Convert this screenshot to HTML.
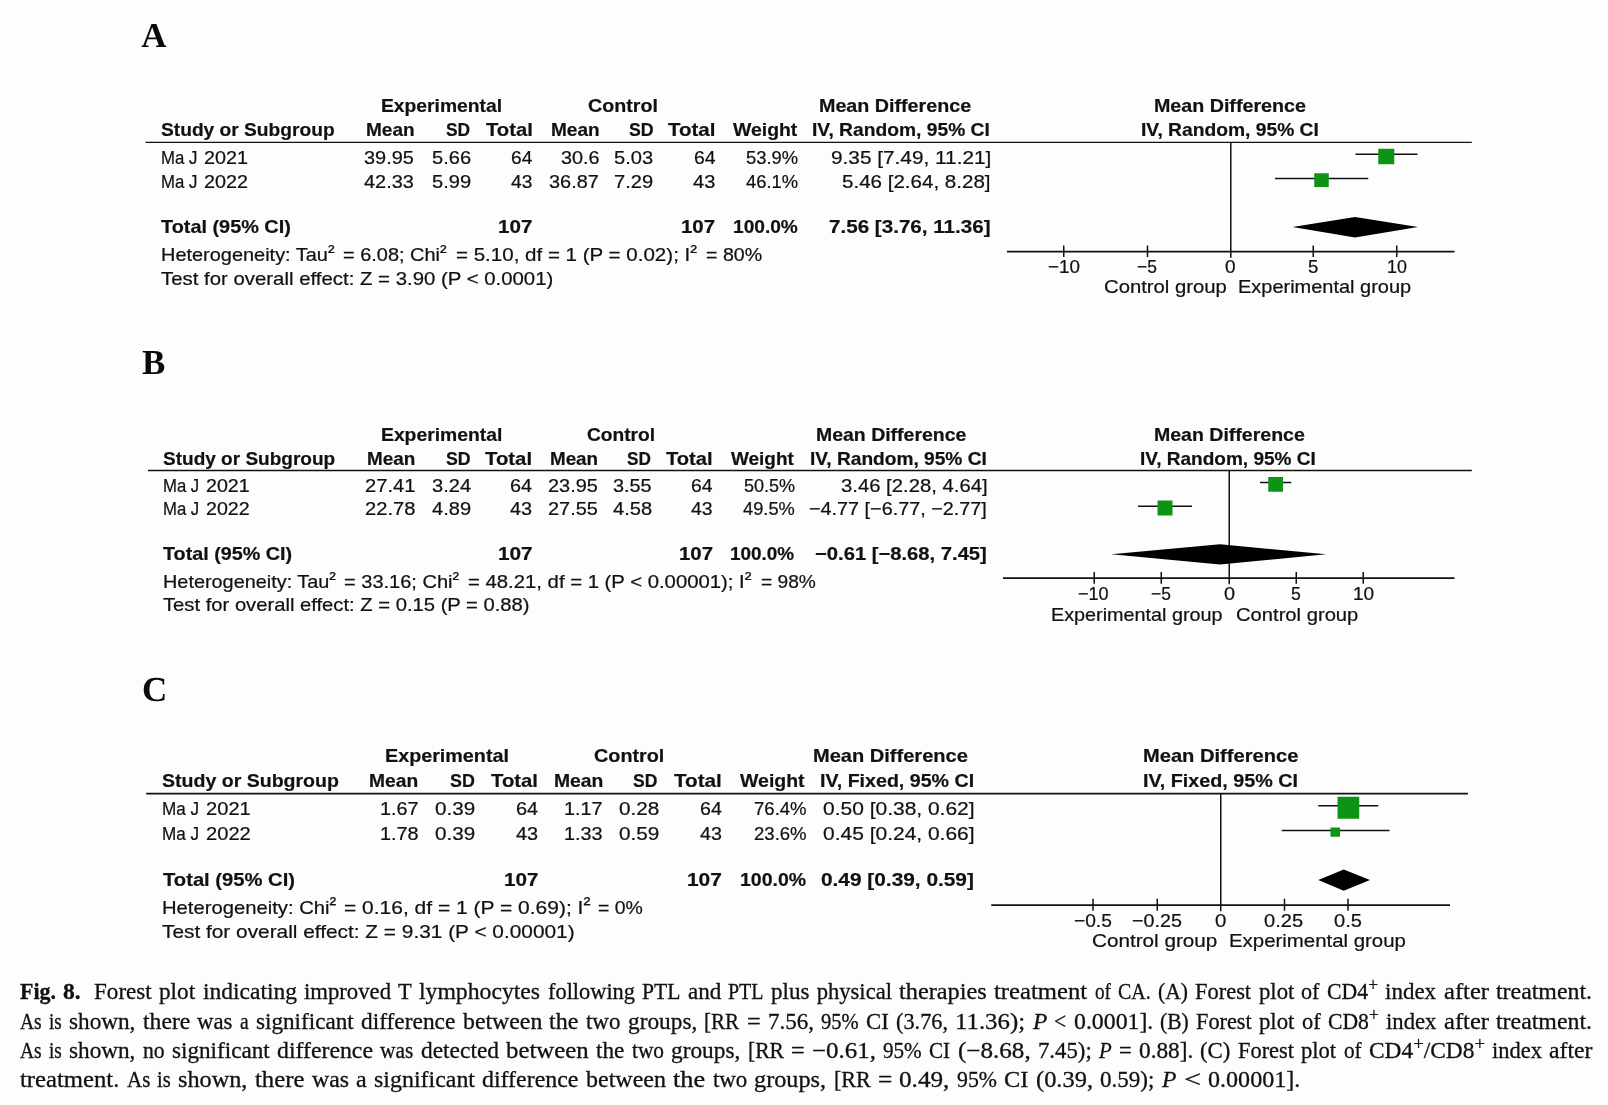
<!DOCTYPE html>
<html lang="en"><head><meta charset="utf-8"><title>Fig. 8 Forest plots</title>
<style>
html,body{margin:0;padding:0;}
body{width:1608px;height:1105px;background:#fdfdfd;position:relative;overflow:hidden;
  font-family:"Liberation Sans",sans-serif;color:#111;}
.t{position:absolute;white-space:pre;transform-origin:0 0;line-height:20px;height:20px;
  font-family:"Liberation Sans",sans-serif;}
.t{-webkit-text-stroke:0.22px #111;}
.q{position:relative;top:-0.19em;}
.b{font-weight:bold;-webkit-text-stroke:0.2px #111;}
.L{position:absolute;font-family:"Liberation Serif",serif;font-weight:bold;line-height:40px;
  font-size:35px;white-space:pre;color:#0a0a0a;text-rendering:geometricPrecision;}
.c{position:absolute;white-space:pre;font-family:"Liberation Serif",serif;
  font-size:22.6px;line-height:26px;height:26px;color:#111;transform-origin:0 0;-webkit-text-stroke:0.3px #111;}
.c sup{font-size:0.8em;line-height:0;vertical-align:baseline;position:relative;top:-0.44em;}
svg{position:absolute;left:0;top:0;}
</style></head><body>
<svg width="1608" height="1105" viewBox="0 0 1608 1105">
<line x1="145.5" y1="142.35" x2="1471.8" y2="142.35" stroke="#111" stroke-width="1.4"/>
<line x1="1230.8" y1="142.4" x2="1230.8" y2="257.7" stroke="#111" stroke-width="1.5"/>
<line x1="1007" y1="251.5" x2="1454.5" y2="251.5" stroke="#111" stroke-width="1.75"/>
<line x1="1063.75" y1="245.5" x2="1063.75" y2="257" stroke="#111" stroke-width="1.5"/>
<line x1="1147.5" y1="245.5" x2="1147.5" y2="257" stroke="#111" stroke-width="1.5"/>
<line x1="1313.25" y1="245.5" x2="1313.25" y2="257" stroke="#111" stroke-width="1.5"/>
<line x1="1396.75" y1="245.5" x2="1396.75" y2="257" stroke="#111" stroke-width="1.5"/>
<line x1="1355.5" y1="154.25" x2="1417.5" y2="154.25" stroke="#111" stroke-width="1.5"/>
<rect x="1378.25" y="148.75" width="16.00" height="15.50" fill="#0e9414"/>
<line x1="1275" y1="178.6" x2="1368.25" y2="178.6" stroke="#111" stroke-width="1.5"/>
<rect x="1314.25" y="173.25" width="14.50" height="13.75" fill="#0e9414"/>
<polygon points="1292.5,227 1355,217 1418,227 1355,237.5" fill="#000"/>
<line x1="147.9" y1="470.5" x2="1471.8" y2="470.5" stroke="#111" stroke-width="1.4"/>
<line x1="1229.25" y1="470.5" x2="1229.25" y2="584.2" stroke="#111" stroke-width="1.5"/>
<line x1="1003" y1="578" x2="1454.5" y2="578" stroke="#111" stroke-width="1.75"/>
<line x1="1094.25" y1="572" x2="1094.25" y2="583.75" stroke="#111" stroke-width="1.5"/>
<line x1="1161.25" y1="572" x2="1161.25" y2="583.75" stroke="#111" stroke-width="1.5"/>
<line x1="1296.25" y1="572" x2="1296.25" y2="583.75" stroke="#111" stroke-width="1.5"/>
<line x1="1363.25" y1="572" x2="1363.25" y2="583.75" stroke="#111" stroke-width="1.5"/>
<line x1="1260" y1="482.5" x2="1291.25" y2="482.5" stroke="#111" stroke-width="1.5"/>
<rect x="1268.25" y="477" width="14.75" height="14.75" fill="#0e9414"/>
<line x1="1138" y1="506.25" x2="1192" y2="506.25" stroke="#111" stroke-width="1.5"/>
<rect x="1157.5" y="500.5" width="15.00" height="15.00" fill="#0e9414"/>
<polygon points="1111.25,554.25 1220,544.25 1326.25,554.25 1220,564.5" fill="#000"/>
<line x1="146.2" y1="793.65" x2="1467.9" y2="793.65" stroke="#111" stroke-width="1.8"/>
<line x1="1220.75" y1="793.65" x2="1220.75" y2="911.2" stroke="#111" stroke-width="1.5"/>
<line x1="991.25" y1="905" x2="1450" y2="905" stroke="#111" stroke-width="1.75"/>
<line x1="1093" y1="898.75" x2="1093" y2="910.75" stroke="#111" stroke-width="1.5"/>
<line x1="1157.25" y1="898.75" x2="1157.25" y2="910.75" stroke="#111" stroke-width="1.5"/>
<line x1="1284.5" y1="898.75" x2="1284.5" y2="910.75" stroke="#111" stroke-width="1.5"/>
<line x1="1348" y1="898.75" x2="1348" y2="910.75" stroke="#111" stroke-width="1.5"/>
<line x1="1318.25" y1="805.75" x2="1378.25" y2="805.75" stroke="#111" stroke-width="1.5"/>
<rect x="1337.5" y="796.75" width="21.75" height="22.00" fill="#0e9414"/>
<line x1="1281.75" y1="830.5" x2="1389.5" y2="830.5" stroke="#111" stroke-width="1.5"/>
<rect x="1330.5" y="827.5" width="9.50" height="9.25" fill="#0e9414"/>
<polygon points="1318.25,880 1343.75,869.5 1370,880 1343.75,890.75" fill="#000"/>
</svg>
<div id="txt" style="position:absolute;left:0;top:0;width:1608px;height:1105px;will-change:transform">
<div class="L" style="left:141.3px;top:16.00px">A</div>
<div class="L" style="left:141.9px;top:343.00px">B</div>
<div class="L" style="left:141.9px;top:670.00px">C</div>
<span class="t b" style="left:380.70px;top:96.00px;font-size:18.2px;transform:scaleX(1.0600)">Experimental</span>
<span class="t b" style="left:588.20px;top:96.00px;font-size:18.2px;transform:scaleX(1.0802)">Control</span>
<span class="t b" style="left:818.95px;top:96.00px;font-size:18.2px;transform:scaleX(1.0825)">Mean Difference</span>
<span class="t b" style="left:1154.45px;top:96.00px;font-size:18.2px;transform:scaleX(1.0807)">Mean Difference</span>
<span class="t b" style="left:160.70px;top:120.00px;font-size:18.2px;transform:scaleX(1.0541)">Study or Subgroup</span>
<span class="t b" style="left:366.45px;top:120.00px;font-size:18.2px;transform:scaleX(1.0450)">Mean</span>
<span class="t b" style="left:446.45px;top:120.00px;font-size:18.2px;transform:scaleX(0.9535)">SD</span>
<span class="t b" style="left:485.70px;top:120.00px;font-size:18.2px;transform:scaleX(1.1128)">Total</span>
<span class="t b" style="left:550.70px;top:120.00px;font-size:18.2px;transform:scaleX(1.0450)">Mean</span>
<span class="t b" style="left:628.95px;top:120.00px;font-size:18.2px;transform:scaleX(0.9733)">SD</span>
<span class="t b" style="left:668.20px;top:120.00px;font-size:18.2px;transform:scaleX(1.1247)">Total</span>
<span class="t b" style="left:733.20px;top:120.00px;font-size:18.2px;transform:scaleX(1.0671)">Weight</span>
<span class="t b" style="left:811.95px;top:120.00px;font-size:18.2px;transform:scaleX(1.0578)">IV, Random, 95% CI</span>
<span class="t b" style="left:1140.70px;top:120.00px;font-size:18.2px;transform:scaleX(1.0578)">IV, Random, 95% CI</span>
<span class="t" style="left:160.70px;top:148.00px;font-size:18.2px;transform:scaleX(0.9225)">Ma J</span>
<span class="t" style="left:204.09px;top:148.00px;font-size:18.2px;transform:scaleX(1.0862)">2021</span>
<span class="t" style="left:364.45px;top:148.00px;font-size:18.2px;transform:scaleX(1.0951)">39.95</span>
<span class="t" style="left:431.95px;top:148.00px;font-size:18.2px;transform:scaleX(1.1041)">5.66</span>
<span class="t" style="left:511.20px;top:148.00px;font-size:18.2px;transform:scaleX(1.0547)">64</span>
<span class="t" style="left:560.70px;top:148.00px;font-size:18.2px;transform:scaleX(1.0900)">30.6</span>
<span class="t" style="left:614.45px;top:148.00px;font-size:18.2px;transform:scaleX(1.1041)">5.03</span>
<span class="t" style="left:693.95px;top:148.00px;font-size:18.2px;transform:scaleX(1.0671)">64</span>
<span class="t" style="left:746.45px;top:148.00px;font-size:18.2px;transform:scaleX(1.0100)">53.9%</span>
<span class="t" style="left:830.70px;top:148.00px;font-size:18.2px;transform:scaleX(1.1434)">9.35 [7.49, 11.21]</span>
<span class="t" style="left:160.70px;top:172.00px;font-size:18.2px;transform:scaleX(0.9225)">Ma J</span>
<span class="t" style="left:204.09px;top:172.00px;font-size:18.2px;transform:scaleX(1.0862)">2022</span>
<span class="t" style="left:364.45px;top:172.00px;font-size:18.2px;transform:scaleX(1.0951)">42.33</span>
<span class="t" style="left:431.95px;top:172.00px;font-size:18.2px;transform:scaleX(1.1041)">5.99</span>
<span class="t" style="left:511.20px;top:172.00px;font-size:18.2px;transform:scaleX(1.0547)">43</span>
<span class="t" style="left:549.45px;top:172.00px;font-size:18.2px;transform:scaleX(1.0951)">36.87</span>
<span class="t" style="left:614.45px;top:172.00px;font-size:18.2px;transform:scaleX(1.1041)">7.29</span>
<span class="t" style="left:693.20px;top:172.00px;font-size:18.2px;transform:scaleX(1.1042)">43</span>
<span class="t" style="left:746.45px;top:172.00px;font-size:18.2px;transform:scaleX(1.0100)">46.1%</span>
<span class="t" style="left:842.45px;top:172.00px;font-size:18.2px;transform:scaleX(1.1302)">5.46 [2.64, 8.28]</span>
<span class="t b" style="left:160.70px;top:217.00px;font-size:18.2px;transform:scaleX(1.0920)">Total (95% CI)</span>
<span class="t b" style="left:498.20px;top:217.00px;font-size:18.2px;transform:scaleX(1.1312)">107</span>
<span class="t b" style="left:681.45px;top:217.00px;font-size:18.2px;transform:scaleX(1.1229)">107</span>
<span class="t b" style="left:733.20px;top:217.00px;font-size:18.2px;transform:scaleX(1.0511)">100.0%</span>
<span class="t b" style="left:828.95px;top:217.00px;font-size:18.2px;transform:scaleX(1.1334)">7.56 [3.76, 11.36]</span>
<span class="t" style="left:160.70px;top:245.00px;font-size:18.2px;transform:scaleX(1.0959)">Heterogeneity: Tau<span class="q">²</span></span>
<span class="t" style="left:343.20px;top:245.00px;font-size:18.2px;transform:scaleX(1.0958)">= 6.08; Chi<span class="q">²</span></span>
<span class="t" style="left:455.70px;top:245.00px;font-size:18.2px;transform:scaleX(1.1292)">= 5.10, df = 1 (P = 0.02); I<span class="q">²</span></span>
<span class="t" style="left:705.70px;top:245.00px;font-size:18.2px;transform:scaleX(1.0771)">= 80%</span>
<span class="t" style="left:160.70px;top:269.00px;font-size:18.2px;transform:scaleX(1.1205)">Test for overall effect: Z = 3.90 (P &lt; 0.0001)</span>
<span class="t" style="left:1048.20px;top:257.00px;font-size:18.2px;transform:scaleX(1.0318)">−10</span>
<span class="t" style="left:1136.95px;top:257.00px;font-size:18.2px;transform:scaleX(0.9562)">−5</span>
<span class="t" style="left:1225.45px;top:257.00px;font-size:18.2px;transform:scaleX(1.0461)">0</span>
<span class="t" style="left:1308.20px;top:257.00px;font-size:18.2px;transform:scaleX(1.0214)">5</span>
<span class="t" style="left:1386.95px;top:257.00px;font-size:18.2px;transform:scaleX(0.9806)">10</span>
<span class="t" style="left:1103.95px;top:277.00px;font-size:18.2px;transform:scaleX(1.1147)">Control group</span>
<span class="t" style="left:1238.20px;top:277.00px;font-size:18.2px;transform:scaleX(1.0975)">Experimental group</span>
<span class="t b" style="left:380.86px;top:425.00px;font-size:18.1px;transform:scaleX(1.0673)">Experimental</span>
<span class="t b" style="left:587.46px;top:425.00px;font-size:18.1px;transform:scaleX(1.0584)">Control</span>
<span class="t b" style="left:815.71px;top:425.00px;font-size:18.1px;transform:scaleX(1.0755)">Mean Difference</span>
<span class="t b" style="left:1153.96px;top:425.00px;font-size:18.1px;transform:scaleX(1.0791)">Mean Difference</span>
<span class="t b" style="left:163.06px;top:449.00px;font-size:18.1px;transform:scaleX(1.0509)">Study or Subgroup</span>
<span class="t b" style="left:367.26px;top:449.00px;font-size:18.1px;transform:scaleX(1.0437)">Mean</span>
<span class="t b" style="left:445.96px;top:449.00px;font-size:18.1px;transform:scaleX(0.9779)">SD</span>
<span class="t b" style="left:485.26px;top:449.00px;font-size:18.1px;transform:scaleX(1.1240)">Total</span>
<span class="t b" style="left:549.96px;top:449.00px;font-size:18.1px;transform:scaleX(1.0393)">Mean</span>
<span class="t b" style="left:627.46px;top:449.00px;font-size:18.1px;transform:scaleX(0.9481)">SD</span>
<span class="t b" style="left:666.46px;top:449.00px;font-size:18.1px;transform:scaleX(1.1121)">Total</span>
<span class="t b" style="left:730.71px;top:449.00px;font-size:18.1px;transform:scaleX(1.0475)">Weight</span>
<span class="t b" style="left:809.96px;top:449.00px;font-size:18.1px;transform:scaleX(1.0572)">IV, Random, 95% CI</span>
<span class="t b" style="left:1140.21px;top:449.00px;font-size:18.1px;transform:scaleX(1.0512)">IV, Random, 95% CI</span>
<span class="t" style="left:163.06px;top:476.00px;font-size:18.1px;transform:scaleX(0.9225)">Ma J</span>
<span class="t" style="left:206.21px;top:476.00px;font-size:18.1px;transform:scaleX(1.0860)">2021</span>
<span class="t" style="left:365.16px;top:476.00px;font-size:18.1px;transform:scaleX(1.1127)">27.41</span>
<span class="t" style="left:432.06px;top:476.00px;font-size:18.1px;transform:scaleX(1.1098)">3.24</span>
<span class="t" style="left:510.26px;top:476.00px;font-size:18.1px;transform:scaleX(1.0966)">64</span>
<span class="t" style="left:548.21px;top:476.00px;font-size:18.1px;transform:scaleX(1.1006)">23.95</span>
<span class="t" style="left:613.21px;top:476.00px;font-size:18.1px;transform:scaleX(1.0956)">3.55</span>
<span class="t" style="left:691.46px;top:476.00px;font-size:18.1px;transform:scaleX(1.0718)">64</span>
<span class="t" style="left:743.96px;top:476.00px;font-size:18.1px;transform:scaleX(0.9956)">50.5%</span>
<span class="t" style="left:840.71px;top:476.00px;font-size:18.1px;transform:scaleX(1.1207)">3.46 [2.28, 4.64]</span>
<span class="t" style="left:163.06px;top:499.00px;font-size:18.1px;transform:scaleX(0.9225)">Ma J</span>
<span class="t" style="left:206.21px;top:499.00px;font-size:18.1px;transform:scaleX(1.0860)">2022</span>
<span class="t" style="left:365.16px;top:499.00px;font-size:18.1px;transform:scaleX(1.1127)">22.78</span>
<span class="t" style="left:432.06px;top:499.00px;font-size:18.1px;transform:scaleX(1.1098)">4.89</span>
<span class="t" style="left:510.26px;top:499.00px;font-size:18.1px;transform:scaleX(1.0966)">43</span>
<span class="t" style="left:548.21px;top:499.00px;font-size:18.1px;transform:scaleX(1.1006)">27.55</span>
<span class="t" style="left:613.21px;top:499.00px;font-size:18.1px;transform:scaleX(1.1098)">4.58</span>
<span class="t" style="left:691.46px;top:499.00px;font-size:18.1px;transform:scaleX(1.0718)">43</span>
<span class="t" style="left:743.21px;top:499.00px;font-size:18.1px;transform:scaleX(1.0102)">49.5%</span>
<span class="t" style="left:809.46px;top:499.00px;font-size:18.1px;transform:scaleX(1.0945)">−4.77 [−6.77, −2.77]</span>
<span class="t b" style="left:163.06px;top:544.00px;font-size:18.1px;transform:scaleX(1.0920)">Total (95% CI)</span>
<span class="t b" style="left:497.66px;top:544.00px;font-size:18.1px;transform:scaleX(1.1484)">107</span>
<span class="t b" style="left:678.96px;top:544.00px;font-size:18.1px;transform:scaleX(1.1286)">107</span>
<span class="t b" style="left:730.21px;top:544.00px;font-size:18.1px;transform:scaleX(1.0442)">100.0%</span>
<span class="t b" style="left:814.96px;top:544.00px;font-size:18.1px;transform:scaleX(1.1164)">−0.61 [−8.68, 7.45]</span>
<span class="t" style="left:163.06px;top:572.00px;font-size:18.1px;transform:scaleX(1.0977)">Heterogeneity: Tau<span class="q">²</span></span>
<span class="t" style="left:344.16px;top:572.00px;font-size:18.1px;transform:scaleX(1.1064)">= 33.16; Chi<span class="q">²</span></span>
<span class="t" style="left:468.26px;top:572.00px;font-size:18.1px;transform:scaleX(1.1222)">= 48.21, df = 1 (P &lt; 0.00001); I<span class="q">²</span></span>
<span class="t" style="left:760.71px;top:572.00px;font-size:18.1px;transform:scaleX(1.0584)">= 98%</span>
<span class="t" style="left:163.06px;top:595.00px;font-size:18.1px;transform:scaleX(1.1169)">Test for overall effect: Z = 0.15 (P = 0.88)</span>
<span class="t" style="left:1078.21px;top:584.00px;font-size:18.1px;transform:scaleX(0.9978)">−10</span>
<span class="t" style="left:1151.46px;top:584.00px;font-size:18.1px;transform:scaleX(0.9610)">−5</span>
<span class="t" style="left:1223.71px;top:584.00px;font-size:18.1px;transform:scaleX(1.1000)">0</span>
<span class="t" style="left:1291.46px;top:584.00px;font-size:18.1px;transform:scaleX(0.9760)">5</span>
<span class="t" style="left:1353.21px;top:584.00px;font-size:18.1px;transform:scaleX(1.0469)">10</span>
<span class="t" style="left:1050.71px;top:605.00px;font-size:18.1px;transform:scaleX(1.0936)">Experimental group</span>
<span class="t" style="left:1236.21px;top:605.00px;font-size:18.1px;transform:scaleX(1.1158)">Control group</span>
<span class="t b" style="left:384.74px;top:746.00px;font-size:18.6px;transform:scaleX(1.0611)">Experimental</span>
<span class="t b" style="left:593.94px;top:746.00px;font-size:18.6px;transform:scaleX(1.0644)">Control</span>
<span class="t b" style="left:813.19px;top:746.00px;font-size:18.6px;transform:scaleX(1.0781)">Mean Difference</span>
<span class="t b" style="left:1143.19px;top:746.00px;font-size:18.6px;transform:scaleX(1.0816)">Mean Difference</span>
<span class="t b" style="left:161.74px;top:771.00px;font-size:18.6px;transform:scaleX(1.0507)">Study or Subgroup</span>
<span class="t b" style="left:369.04px;top:771.00px;font-size:18.6px;transform:scaleX(1.0333)">Mean</span>
<span class="t b" style="left:450.34px;top:771.00px;font-size:18.6px;transform:scaleX(0.9602)">SD</span>
<span class="t b" style="left:491.04px;top:771.00px;font-size:18.6px;transform:scaleX(1.0922)">Total</span>
<span class="t b" style="left:553.69px;top:771.00px;font-size:18.6px;transform:scaleX(1.0386)">Mean</span>
<span class="t b" style="left:633.19px;top:771.00px;font-size:18.6px;transform:scaleX(0.9428)">SD</span>
<span class="t b" style="left:673.94px;top:771.00px;font-size:18.6px;transform:scaleX(1.1120)">Total</span>
<span class="t b" style="left:740.19px;top:771.00px;font-size:18.6px;transform:scaleX(1.0483)">Weight</span>
<span class="t b" style="left:820.19px;top:771.00px;font-size:18.6px;transform:scaleX(1.0551)">IV, Fixed, 95% CI</span>
<span class="t b" style="left:1143.19px;top:771.00px;font-size:18.6px;transform:scaleX(1.0603)">IV, Fixed, 95% CI</span>
<span class="t" style="left:161.74px;top:799.00px;font-size:18.6px;transform:scaleX(0.9199)">Ma J</span>
<span class="t" style="left:205.96px;top:799.00px;font-size:18.6px;transform:scaleX(1.0828)">2021</span>
<span class="t" style="left:379.54px;top:799.00px;font-size:18.6px;transform:scaleX(1.0666)">1.67</span>
<span class="t" style="left:435.44px;top:799.00px;font-size:18.6px;transform:scaleX(1.1108)">0.39</span>
<span class="t" style="left:515.94px;top:799.00px;font-size:18.6px;transform:scaleX(1.0691)">64</span>
<span class="t" style="left:564.44px;top:799.00px;font-size:18.6px;transform:scaleX(1.0666)">1.17</span>
<span class="t" style="left:618.94px;top:799.00px;font-size:18.6px;transform:scaleX(1.1150)">0.28</span>
<span class="t" style="left:699.94px;top:799.00px;font-size:18.6px;transform:scaleX(1.0570)">64</span>
<span class="t" style="left:753.69px;top:799.00px;font-size:18.6px;transform:scaleX(0.9978)">76.4%</span>
<span class="t" style="left:823.19px;top:799.00px;font-size:18.6px;transform:scaleX(1.1280)">0.50 [0.38, 0.62]</span>
<span class="t" style="left:161.74px;top:824.00px;font-size:18.6px;transform:scaleX(0.9199)">Ma J</span>
<span class="t" style="left:205.96px;top:824.00px;font-size:18.6px;transform:scaleX(1.0828)">2022</span>
<span class="t" style="left:379.54px;top:824.00px;font-size:18.6px;transform:scaleX(1.0666)">1.78</span>
<span class="t" style="left:435.44px;top:824.00px;font-size:18.6px;transform:scaleX(1.1108)">0.39</span>
<span class="t" style="left:515.94px;top:824.00px;font-size:18.6px;transform:scaleX(1.0691)">43</span>
<span class="t" style="left:564.44px;top:824.00px;font-size:18.6px;transform:scaleX(1.0666)">1.33</span>
<span class="t" style="left:618.94px;top:824.00px;font-size:18.6px;transform:scaleX(1.1150)">0.59</span>
<span class="t" style="left:699.94px;top:824.00px;font-size:18.6px;transform:scaleX(1.0570)">43</span>
<span class="t" style="left:753.69px;top:824.00px;font-size:18.6px;transform:scaleX(0.9978)">23.6%</span>
<span class="t" style="left:823.19px;top:824.00px;font-size:18.6px;transform:scaleX(1.1280)">0.45 [0.24, 0.66]</span>
<span class="t b" style="left:162.54px;top:870.00px;font-size:18.6px;transform:scaleX(1.0860)">Total (95% CI)</span>
<span class="t b" style="left:503.64px;top:870.00px;font-size:18.6px;transform:scaleX(1.1091)">107</span>
<span class="t b" style="left:686.94px;top:870.00px;font-size:18.6px;transform:scaleX(1.1236)">107</span>
<span class="t b" style="left:740.19px;top:870.00px;font-size:18.6px;transform:scaleX(1.0482)">100.0%</span>
<span class="t b" style="left:821.44px;top:870.00px;font-size:18.6px;transform:scaleX(1.1203)">0.49 [0.39, 0.59]</span>
<span class="t" style="left:161.74px;top:898.00px;font-size:18.6px;transform:scaleX(1.0881)">Heterogeneity: Chi<span class="q">²</span></span>
<span class="t" style="left:344.14px;top:898.00px;font-size:18.6px;transform:scaleX(1.1289)">= 0.16, df = 1 (P = 0.69); I<span class="q">²</span></span>
<span class="t" style="left:598.19px;top:898.00px;font-size:18.6px;transform:scaleX(1.0457)">= 0%</span>
<span class="t" style="left:161.74px;top:922.00px;font-size:18.6px;transform:scaleX(1.1202)">Test for overall effect: Z = 9.31 (P &lt; 0.00001)</span>
<span class="t" style="left:1073.94px;top:911.00px;font-size:18.6px;transform:scaleX(1.0312)">−0.5</span>
<span class="t" style="left:1131.94px;top:911.00px;font-size:18.6px;transform:scaleX(1.0596)">−0.25</span>
<span class="t" style="left:1214.94px;top:911.00px;font-size:18.6px;transform:scaleX(1.0988)">0</span>
<span class="t" style="left:1264.44px;top:911.00px;font-size:18.6px;transform:scaleX(1.0805)">0.25</span>
<span class="t" style="left:1333.94px;top:911.00px;font-size:18.6px;transform:scaleX(1.0776)">0.5</span>
<span class="t" style="left:1091.94px;top:931.00px;font-size:18.6px;transform:scaleX(1.1127)">Control group</span>
<span class="t" style="left:1228.69px;top:931.00px;font-size:18.6px;transform:scaleX(1.0969)">Experimental group</span>
<span class="c" style="left:20.00px;top:979.00px;transform:scaleX(0.9722)"><b>Fig.</b></span>
<span class="c" style="left:63.30px;top:979.00px;transform:scaleX(1.0441)"><b>8.</b></span>
<span class="c" style="left:94.30px;top:979.00px;transform:scaleX(1.0215)">Forest</span>
<span class="c" style="left:159.30px;top:979.00px;transform:scaleX(1.0268)">plot</span>
<span class="c" style="left:202.70px;top:979.00px;transform:scaleX(1.0403)">indicating</span>
<span class="c" style="left:304.00px;top:979.00px;transform:scaleX(1.0047)">improved</span>
<span class="c" style="left:398.30px;top:979.00px;transform:scaleX(0.9919)">T</span>
<span class="c" style="left:419.30px;top:979.00px;transform:scaleX(1.0488)">lymphocytes</span>
<span class="c" style="left:547.70px;top:979.00px;transform:scaleX(0.9900)">following</span>
<span class="c" style="left:642.00px;top:979.00px;transform:scaleX(0.9559)">PTL</span>
<span class="c" style="left:687.70px;top:979.00px;transform:scaleX(1.0207)">and</span>
<span class="c" style="left:728.30px;top:979.00px;transform:scaleX(0.8812)">PTL</span>
<span class="c" style="left:771.00px;top:979.00px;transform:scaleX(1.0193)">plus</span>
<span class="c" style="left:816.70px;top:979.00px;transform:scaleX(1.0000)">physical</span>
<span class="c" style="left:899.30px;top:979.00px;transform:scaleX(1.0752)">therapies</span>
<span class="c" style="left:994.30px;top:979.00px;transform:scaleX(1.0913)">treatment</span>
<span class="c" style="left:1094.70px;top:979.00px;transform:scaleX(0.8500)">of</span>
<span class="c" style="left:1118.00px;top:979.00px;transform:scaleX(0.8827)">CA.</span>
<span class="c" style="left:1158.00px;top:979.00px;transform:scaleX(0.9562)">(A)</span>
<span class="c" style="left:1195.30px;top:979.00px;transform:scaleX(0.9932)">Forest</span>
<span class="c" style="left:1258.70px;top:979.00px;transform:scaleX(1.0041)">plot</span>
<span class="c" style="left:1301.30px;top:979.00px;transform:scaleX(0.9773)">of</span>
<span class="c" style="left:1327.00px;top:979.00px;transform:scaleX(0.9643)">CD4<sup>+</sup></span>
<span class="c" style="left:1385.30px;top:979.00px;transform:scaleX(1.0179)">index</span>
<span class="c" style="left:1443.70px;top:979.00px;transform:scaleX(1.0872)">after</span>
<span class="c" style="left:1496.00px;top:979.00px;transform:scaleX(1.0553)">treatment.</span>
<span class="c" style="left:20.00px;top:1009.00px;transform:scaleX(0.8642)">As</span>
<span class="c" style="left:49.00px;top:1009.00px;transform:scaleX(0.8500)">is</span>
<span class="c" style="left:69.00px;top:1009.00px;transform:scaleX(1.0270)">shown,</span>
<span class="c" style="left:142.70px;top:1009.00px;transform:scaleX(1.0475)">there</span>
<span class="c" style="left:197.30px;top:1009.00px;transform:scaleX(1.0074)">was</span>
<span class="c" style="left:240.00px;top:1009.00px;transform:scaleX(0.8673)">a</span>
<span class="c" style="left:256.00px;top:1009.00px;transform:scaleX(1.0244)">significant</span>
<span class="c" style="left:361.00px;top:1009.00px;transform:scaleX(1.0356)">difference</span>
<span class="c" style="left:462.70px;top:1009.00px;transform:scaleX(1.0534)">between</span>
<span class="c" style="left:549.30px;top:1009.00px;transform:scaleX(1.0649)">the</span>
<span class="c" style="left:586.00px;top:1009.00px;transform:scaleX(1.0150)">two</span>
<span class="c" style="left:627.70px;top:1009.00px;transform:scaleX(1.0319)">groups,</span>
<span class="c" style="left:704.30px;top:1009.00px;transform:scaleX(0.9317)">[RR</span>
<span class="c" style="left:746.70px;top:1009.00px;transform:scaleX(1.0745)">=</span>
<span class="c" style="left:767.70px;top:1009.00px;transform:scaleX(1.0180)">7.56,</span>
<span class="c" style="left:821.00px;top:1009.00px;transform:scaleX(0.9101)">95%</span>
<span class="c" style="left:866.00px;top:1009.00px;transform:scaleX(1.0047)">CI</span>
<span class="c" style="left:896.00px;top:1009.00px;transform:scaleX(0.9864)">(3.76,</span>
<span class="c" style="left:955.30px;top:1009.00px;transform:scaleX(1.0985)">11.36);</span>
<span class="c" style="left:1032.70px;top:1009.00px;transform:scaleX(1.0353)"><i>P</i></span>
<span class="c" style="left:1054.30px;top:1009.00px;transform:scaleX(0.9490)">&lt;</span>
<span class="c" style="left:1073.70px;top:1009.00px;transform:scaleX(1.0529)">0.0001].</span>
<span class="c" style="left:1160.30px;top:1009.00px;transform:scaleX(0.9527)">(B)</span>
<span class="c" style="left:1196.30px;top:1009.00px;transform:scaleX(0.9861)">Forest</span>
<span class="c" style="left:1259.30px;top:1009.00px;transform:scaleX(1.0069)">plot</span>
<span class="c" style="left:1302.00px;top:1009.00px;transform:scaleX(0.9932)">of</span>
<span class="c" style="left:1328.00px;top:1009.00px;transform:scaleX(0.9586)">CD8<sup>+</sup></span>
<span class="c" style="left:1386.00px;top:1009.00px;transform:scaleX(1.0039)">index</span>
<span class="c" style="left:1443.70px;top:1009.00px;transform:scaleX(1.0872)">after</span>
<span class="c" style="left:1496.00px;top:1009.00px;transform:scaleX(1.0553)">treatment.</span>
<span class="c" style="left:20.00px;top:1038.00px;transform:scaleX(0.8642)">As</span>
<span class="c" style="left:49.00px;top:1038.00px;transform:scaleX(0.8500)">is</span>
<span class="c" style="left:69.00px;top:1038.00px;transform:scaleX(1.0270)">shown,</span>
<span class="c" style="left:142.70px;top:1038.00px;transform:scaleX(0.9604)">no</span>
<span class="c" style="left:171.70px;top:1038.00px;transform:scaleX(1.0244)">significant</span>
<span class="c" style="left:276.70px;top:1038.00px;transform:scaleX(1.0531)">difference</span>
<span class="c" style="left:380.00px;top:1038.00px;transform:scaleX(0.9505)">was</span>
<span class="c" style="left:420.70px;top:1038.00px;transform:scaleX(1.0363)">detected</span>
<span class="c" style="left:506.00px;top:1038.00px;transform:scaleX(1.0985)">between</span>
<span class="c" style="left:596.00px;top:1038.00px;transform:scaleX(1.0286)">the</span>
<span class="c" style="left:631.70px;top:1038.00px;transform:scaleX(0.9442)">two</span>
<span class="c" style="left:671.00px;top:1038.00px;transform:scaleX(1.0334)">groups,</span>
<span class="c" style="left:747.70px;top:1038.00px;transform:scaleX(0.9556)">[RR</span>
<span class="c" style="left:791.00px;top:1038.00px;transform:scaleX(1.0745)">=</span>
<span class="c" style="left:812.00px;top:1038.00px;transform:scaleX(1.1046)">−0.61,</span>
<span class="c" style="left:883.30px;top:1038.00px;transform:scaleX(0.9343)">95%</span>
<span class="c" style="left:929.30px;top:1038.00px;transform:scaleX(0.9339)">CI</span>
<span class="c" style="left:957.70px;top:1038.00px;transform:scaleX(1.1105)">(−8.68,</span>
<span class="c" style="left:1037.70px;top:1038.00px;transform:scaleX(1.0067)">7.45);</span>
<span class="c" style="left:1098.70px;top:1038.00px;transform:scaleX(0.9195)"><i>P</i></span>
<span class="c" style="left:1118.70px;top:1038.00px;transform:scaleX(0.9961)">=</span>
<span class="c" style="left:1138.70px;top:1038.00px;transform:scaleX(1.0300)">0.88].</span>
<span class="c" style="left:1200.30px;top:1038.00px;transform:scaleX(1.0091)">(C)</span>
<span class="c" style="left:1238.00px;top:1038.00px;transform:scaleX(0.9914)">Forest</span>
<span class="c" style="left:1301.30px;top:1038.00px;transform:scaleX(0.9984)">plot</span>
<span class="c" style="left:1343.70px;top:1038.00px;transform:scaleX(0.9401)">of</span>
<span class="c" style="left:1368.70px;top:1038.00px;transform:scaleX(1.0351)">CD4<sup>+</sup>/CD8<sup>+</sup></span>
<span class="c" style="left:1492.00px;top:1038.00px;transform:scaleX(0.9960)">index</span>
<span class="c" style="left:1549.30px;top:1038.00px;transform:scaleX(1.0485)">after</span>
<span class="c" style="left:20.00px;top:1067.00px;transform:scaleX(1.0927)">treatment.</span>
<span class="c" style="left:126.70px;top:1067.00px;transform:scaleX(0.9279)">As</span>
<span class="c" style="left:157.30px;top:1067.00px;transform:scaleX(0.9086)">is</span>
<span class="c" style="left:178.30px;top:1067.00px;transform:scaleX(1.0734)">shown,</span>
<span class="c" style="left:255.00px;top:1067.00px;transform:scaleX(1.0940)">there</span>
<span class="c" style="left:311.70px;top:1067.00px;transform:scaleX(1.0529)">was</span>
<span class="c" style="left:356.00px;top:1067.00px;transform:scaleX(1.0667)">a</span>
<span class="c" style="left:374.00px;top:1067.00px;transform:scaleX(1.0590)">significant</span>
<span class="c" style="left:482.30px;top:1067.00px;transform:scaleX(1.0575)">difference</span>
<span class="c" style="left:586.00px;top:1067.00px;transform:scaleX(1.0627)">between</span>
<span class="c" style="left:673.30px;top:1067.00px;transform:scaleX(1.1626)">the</span>
<span class="c" style="left:712.70px;top:1067.00px;transform:scaleX(1.0121)">two</span>
<span class="c" style="left:754.30px;top:1067.00px;transform:scaleX(1.0736)">groups,</span>
<span class="c" style="left:833.70px;top:1067.00px;transform:scaleX(0.9742)">[RR</span>
<span class="c" style="left:877.70px;top:1067.00px;transform:scaleX(1.1216)">=</span>
<span class="c" style="left:899.30px;top:1067.00px;transform:scaleX(1.1154)">0.49,</span>
<span class="c" style="left:957.00px;top:1067.00px;transform:scaleX(0.9657)">95%</span>
<span class="c" style="left:1004.30px;top:1067.00px;transform:scaleX(1.0799)">CI</span>
<span class="c" style="left:1036.00px;top:1067.00px;transform:scaleX(1.0812)">(0.39,</span>
<span class="c" style="left:1100.30px;top:1067.00px;transform:scaleX(1.0198)">0.59);</span>
<span class="c" style="left:1162.00px;top:1067.00px;transform:scaleX(1.0425)"><i>P</i></span>
<span class="c" style="left:1183.70px;top:1067.00px;transform:scaleX(1.3333)">&lt;</span>
<span class="c" style="left:1208.00px;top:1067.00px;transform:scaleX(1.0657)">0.00001].</span>
</div>
</body></html>
